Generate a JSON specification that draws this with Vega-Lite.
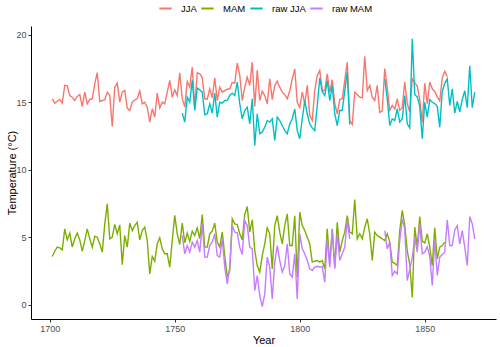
{
  "$schema": "https://vega.github.io/schema/vega-lite/v6.json",
  "width": 465,
  "height": 293,
  "autosize": {"type": "none"},
  "padding": {"left": 31, "top": 26, "right": 4, "bottom": 28},
  "background": "white",
  "config": {
    "view": {"stroke": null},
    "font": "Liberation Sans",
    "axis": {
      "grid": false,
      "domainColor": "black",
      "domainWidth": 1,
      "tickColor": "#333333",
      "tickSize": 3,
      "tickWidth": 1,
      "labelColor": "#4d4d4d",
      "labelFontSize": 9,
      "labelPadding": 2,
      "titleFontSize": 11,
      "titleFontWeight": "normal",
      "titleColor": "black"
    }
  },
  "data": {"values": [
    {"Year":1701,"JJA":15.26,"MAM":3.58},
    {"Year":1702,"JJA":14.94,"MAM":3.97},
    {"Year":1703,"JJA":15.08,"MAM":4.27},
    {"Year":1704,"JJA":15.21,"MAM":4.22},
    {"Year":1705,"JJA":14.94,"MAM":4.07},
    {"Year":1706,"JJA":16.25,"MAM":5.63},
    {"Year":1707,"JJA":16.22,"MAM":4.81},
    {"Year":1708,"JJA":15.5,"MAM":5.31},
    {"Year":1709,"JJA":15.38,"MAM":4.27},
    {"Year":1710,"JJA":15.13,"MAM":4.89},
    {"Year":1711,"JJA":15.43,"MAM":5.31},
    {"Year":1712,"JJA":15.58,"MAM":4.81},
    {"Year":1713,"JJA":14.69,"MAM":3.97},
    {"Year":1714,"JJA":15.75,"MAM":4.76},
    {"Year":1715,"JJA":14.89,"MAM":5.63},
    {"Year":1716,"JJA":15.21,"MAM":4.89},
    {"Year":1717,"JJA":15.26,"MAM":4.27},
    {"Year":1718,"JJA":16.37,"MAM":5.08},
    {"Year":1719,"JJA":17.2,"MAM":5.01},
    {"Year":1720,"JJA":15.06,"MAM":4.52},
    {"Year":1721,"JJA":15.13,"MAM":3.9},
    {"Year":1722,"JJA":15.18,"MAM":5.96},
    {"Year":1723,"JJA":15.75,"MAM":7.48},
    {"Year":1724,"JJA":15.5,"MAM":4.89},
    {"Year":1725,"JJA":13.21,"MAM":5.01},
    {"Year":1726,"JJA":16.12,"MAM":5.96},
    {"Year":1727,"JJA":16.42,"MAM":5.26},
    {"Year":1728,"JJA":15.01,"MAM":5.92},
    {"Year":1729,"JJA":15.75,"MAM":2.98},
    {"Year":1730,"JJA":15.87,"MAM":5.13},
    {"Year":1731,"JJA":14.57,"MAM":4.27},
    {"Year":1732,"JJA":14.39,"MAM":6.05},
    {"Year":1733,"JJA":15.01,"MAM":5.5},
    {"Year":1734,"JJA":15.18,"MAM":5.87},
    {"Year":1735,"JJA":15.26,"MAM":6.12},
    {"Year":1736,"JJA":15.83,"MAM":4.81},
    {"Year":1737,"JJA":14.89,"MAM":5.5},
    {"Year":1738,"JJA":15.01,"MAM":5.75},
    {"Year":1739,"JJA":14.64,"MAM":4.76},
    {"Year":1740,"JJA":13.53,"MAM":2.29},
    {"Year":1741,"JJA":14.52,"MAM":3.58},
    {"Year":1742,"JJA":13.9,"MAM":3.23},
    {"Year":1743,"JJA":15.68,"MAM":4.52},
    {"Year":1744,"JJA":14.59,"MAM":4.96},
    {"Year":1745,"JJA":15.01,"MAM":4.15},
    {"Year":1746,"JJA":14.89,"MAM":3.78},
    {"Year":1747,"JJA":15.75,"MAM":3.78},
    {"Year":1748,"JJA":16.62,"MAM":2.79},
    {"Year":1749,"JJA":15.38,"MAM":4.76},
    {"Year":1750,"JJA":15.92,"MAM":6.62},
    {"Year":1751,"JJA":15.5,"MAM":5.26},
    {"Year":1752,"JJA":17.18,"MAM":4.47},
    {"Year":1753,"JJA":15.25,"MAM":6.05,"raw JJA":14.2,"raw MAM":5.13},
    {"Year":1754,"JJA":14.66,"MAM":4.6,"raw JJA":13.53,"raw MAM":3.78},
    {"Year":1755,"JJA":16.54,"MAM":5.31,"raw JJA":15.38,"raw MAM":4.39},
    {"Year":1756,"JJA":16.12,"MAM":4.7,"raw JJA":15.01,"raw MAM":3.9},
    {"Year":1757,"JJA":17.6,"MAM":5.46,"raw JJA":16.62,"raw MAM":4.64},
    {"Year":1758,"JJA":14.59,"MAM":5.13,"raw JJA":14.39,"raw MAM":4.27},
    {"Year":1759,"JJA":17.18,"MAM":5.7,"raw JJA":16.05,"raw MAM":4.76},
    {"Year":1760,"JJA":17.11,"MAM":4.89,"raw JJA":15.92,"raw MAM":3.9},
    {"Year":1761,"JJA":16.81,"MAM":6.69,"raw JJA":15.75,"raw MAM":6.0},
    {"Year":1762,"JJA":15.26,"MAM":4.27,"raw JJA":14.07,"raw MAM":3.53},
    {"Year":1763,"JJA":15.23,"MAM":4.27,"raw JJA":14.15,"raw MAM":3.53},
    {"Year":1764,"JJA":16.0,"MAM":5.26,"raw JJA":14.89,"raw MAM":4.39},
    {"Year":1765,"JJA":15.33,"MAM":5.46,"raw JJA":14.2,"raw MAM":4.64},
    {"Year":1766,"JJA":16.81,"MAM":6.05,"raw JJA":15.68,"raw MAM":5.26},
    {"Year":1767,"JJA":15.13,"MAM":4.64,"raw JJA":13.9,"raw MAM":3.65},
    {"Year":1768,"JJA":16.12,"MAM":4.27,"raw JJA":15.01,"raw MAM":3.53},
    {"Year":1769,"JJA":15.75,"MAM":5.38,"raw JJA":14.94,"raw MAM":4.89},
    {"Year":1770,"JJA":15.87,"MAM":3.65,"raw JJA":15.13,"raw MAM":2.79},
    {"Year":1771,"JJA":15.97,"MAM":2.05,"raw JJA":15.13,"raw MAM":1.55},
    {"Year":1772,"JJA":16.0,"MAM":2.54,"raw JJA":15.5,"raw MAM":2.79},
    {"Year":1773,"JJA":16.47,"MAM":6.37,"raw JJA":15.68,"raw MAM":5.87},
    {"Year":1774,"JJA":16.42,"MAM":6.0,"raw JJA":15.5,"raw MAM":5.38},
    {"Year":1775,"JJA":17.9,"MAM":5.95,"raw JJA":16.5,"raw MAM":5.33},
    {"Year":1776,"JJA":16.99,"MAM":5.26,"raw JJA":14.9,"raw MAM":4.27},
    {"Year":1777,"JJA":15.13,"MAM":4.81,"raw JJA":13.78,"raw MAM":3.73},
    {"Year":1778,"JJA":16.12,"MAM":6.69,"raw JJA":14.39,"raw MAM":6.24},
    {"Year":1779,"JJA":16.86,"MAM":7.28,"raw JJA":14.64,"raw MAM":5.87},
    {"Year":1780,"JJA":16.25,"MAM":5.38,"raw JJA":13.4,"raw MAM":4.27},
    {"Year":1781,"JJA":17.97,"MAM":6.29,"raw JJA":15.26,"raw MAM":4.15},
    {"Year":1782,"JJA":14.7,"MAM":4.02,"raw JJA":11.8,"raw MAM":1.06},
    {"Year":1783,"JJA":17.36,"MAM":2.91,"raw JJA":14.15,"raw MAM":2.17},
    {"Year":1784,"JJA":15.13,"MAM":2.42,"raw JJA":12.67,"raw MAM":0.69},
    {"Year":1785,"JJA":15.83,"MAM":3.65,"raw JJA":12.79,"raw MAM":-0.13},
    {"Year":1786,"JJA":15.5,"MAM":4.52,"raw JJA":13.16,"raw MAM":0.81},
    {"Year":1787,"JJA":14.89,"MAM":5.7,"raw JJA":13.65,"raw MAM":3.53},
    {"Year":1788,"JJA":16.74,"MAM":5.26,"raw JJA":13.53,"raw MAM":2.79},
    {"Year":1789,"JJA":15.2,"MAM":2.66,"raw JJA":13.78,"raw MAM":0.44},
    {"Year":1790,"JJA":16.25,"MAM":5.87,"raw JJA":12.17,"raw MAM":3.16},
    {"Year":1791,"JJA":16.57,"MAM":6.6,"raw JJA":13.9,"raw MAM":4.39},
    {"Year":1792,"JJA":16.12,"MAM":5.38,"raw JJA":13.65,"raw MAM":3.28},
    {"Year":1793,"JJA":15.75,"MAM":4.52,"raw JJA":13.28,"raw MAM":2.42},
    {"Year":1794,"JJA":15.58,"MAM":5.87,"raw JJA":12.9,"raw MAM":2.91},
    {"Year":1795,"JJA":15.26,"MAM":6.74,"raw JJA":12.67,"raw MAM":4.52},
    {"Year":1796,"JJA":15.83,"MAM":4.39,"raw JJA":13.4,"raw MAM":2.29},
    {"Year":1797,"JJA":16.74,"MAM":4.39,"raw JJA":13.78,"raw MAM":2.05},
    {"Year":1798,"JJA":17.48,"MAM":6.6,"raw JJA":14.5,"raw MAM":3.78},
    {"Year":1799,"JJA":15.0,"MAM":2.05,"raw JJA":12.9,"raw MAM":0.44},
    {"Year":1800,"JJA":14.6,"MAM":6.86,"raw JJA":12.3,"raw MAM":5.26},
    {"Year":1801,"JJA":15.75,"MAM":5.87,"raw JJA":13.78,"raw MAM":4.15},
    {"Year":1802,"JJA":14.89,"MAM":5.5,"raw JJA":15.1,"raw MAM":3.78},
    {"Year":1803,"JJA":16.25,"MAM":5.01,"raw JJA":14.15,"raw MAM":3.28},
    {"Year":1804,"JJA":14.02,"MAM":4.52,"raw JJA":13.4,"raw MAM":2.66},
    {"Year":1805,"JJA":13.65,"MAM":3.16,"raw JJA":13.1,"raw MAM":2.54},
    {"Year":1806,"JJA":15.87,"MAM":3.23,"raw JJA":12.9,"raw MAM":2.79},
    {"Year":1807,"JJA":16.99,"MAM":3.28,"raw JJA":14.76,"raw MAM":2.85},
    {"Year":1808,"JJA":17.36,"MAM":3.16,"raw JJA":16.8,"raw MAM":2.79},
    {"Year":1809,"JJA":15.87,"MAM":3.28,"raw JJA":15.8,"raw MAM":2.85},
    {"Year":1810,"JJA":15.87,"MAM":2.66,"raw JJA":15.5,"raw MAM":1.68},
    {"Year":1811,"JJA":17.11,"MAM":5.63,"raw JJA":16.6,"raw MAM":4.89},
    {"Year":1812,"JJA":15.75,"MAM":3.0,"raw JJA":15.13,"raw MAM":2.79},
    {"Year":1813,"JJA":16.67,"MAM":5.63,"raw JJA":16.25,"raw MAM":5.5},
    {"Year":1814,"JJA":14.89,"MAM":2.79,"raw JJA":14.15,"raw MAM":2.67},
    {"Year":1815,"JJA":14.15,"MAM":6.12,"raw JJA":13.28,"raw MAM":5.26},
    {"Year":1816,"JJA":15.21,"MAM":3.9,"raw JJA":14.39,"raw MAM":3.28},
    {"Year":1817,"JJA":15.26,"MAM":4.76,"raw JJA":14.39,"raw MAM":3.78},
    {"Year":1818,"JJA":16.62,"MAM":5.38,"raw JJA":15.87,"raw MAM":4.27},
    {"Year":1819,"JJA":17.97,"MAM":6.6,"raw JJA":17.23,"raw MAM":6.24},
    {"Year":1820,"JJA":13.65,"MAM":5.38,"raw JJA":13.36,"raw MAM":4.89},
    {"Year":1821,"JJA":13.36,"MAM":5.26},
    {"Year":1822,"JJA":15.75,"MAM":7.8},
    {"Year":1823,"JJA":15.58,"MAM":4.89},
    {"Year":1824,"JJA":15.38,"MAM":5.26},
    {"Year":1825,"JJA":15.33,"MAM":4.89},
    {"Year":1826,"JJA":18.4,"MAM":5.75},
    {"Year":1827,"JJA":15.87,"MAM":6.37},
    {"Year":1828,"JJA":16.25,"MAM":5.26},
    {"Year":1829,"JJA":15.38,"MAM":3.28},
    {"Year":1830,"JJA":15.13,"MAM":5.38},
    {"Year":1831,"JJA":16.25,"MAM":5.13},
    {"Year":1832,"JJA":14.24,"MAM":5.01},
    {"Year":1833,"JJA":14.36,"MAM":4.89},
    {"Year":1834,"JJA":17.5,"MAM":4.76,"raw JJA":16.74,"raw MAM":5.5},
    {"Year":1835,"JJA":16.1,"MAM":5.26,"raw JJA":15.26,"raw MAM":4.15},
    {"Year":1836,"JJA":14.4,"MAM":4.64,"raw JJA":13.28,"raw MAM":4.64},
    {"Year":1837,"JJA":14.77,"MAM":3.16,"raw JJA":13.78,"raw MAM":2.17},
    {"Year":1838,"JJA":14.5,"MAM":3.08,"raw JJA":13.65,"raw MAM":2.49},
    {"Year":1839,"JJA":15.26,"MAM":2.91,"raw JJA":14.52,"raw MAM":2.29},
    {"Year":1840,"JJA":14.4,"MAM":5.5,"raw JJA":13.53,"raw MAM":4.76},
    {"Year":1841,"JJA":14.6,"MAM":6.99,"raw JJA":13.78,"raw MAM":6.37},
    {"Year":1842,"JJA":16.5,"MAM":5.9,"raw JJA":15.5,"raw MAM":5.63},
    {"Year":1843,"JJA":14.9,"MAM":4.0,"raw JJA":13.41,"raw MAM":1.8},
    {"Year":1844,"JJA":14.3,"MAM":3.0,"raw JJA":13.11,"raw MAM":2.6},
    {"Year":1845,"JJA":16.74,"MAM":0.55,"raw JJA":19.7,"raw MAM":3.5},
    {"Year":1846,"JJA":16.45,"MAM":5.75,"raw JJA":15.58,"raw MAM":5.0},
    {"Year":1847,"JJA":16.2,"MAM":4.27,"raw JJA":15.4,"raw MAM":3.9},
    {"Year":1848,"JJA":15.2,"MAM":6.54,"raw JJA":14.7,"raw MAM":6.0},
    {"Year":1849,"JJA":13.5,"MAM":4.72,"raw JJA":12.3,"raw MAM":3.78},
    {"Year":1850,"JJA":16.4,"MAM":4.57,"raw JJA":15.0,"raw MAM":3.9},
    {"Year":1851,"JJA":14.9,"MAM":5.26,"raw JJA":13.9,"raw MAM":4.3},
    {"Year":1852,"JJA":16.5,"MAM":4.27,"raw JJA":15.2,"raw MAM":3.6},
    {"Year":1853,"JJA":16.0,"MAM":2.91,"raw JJA":15.0,"raw MAM":1.43},
    {"Year":1854,"JJA":15.8,"MAM":5.7,"raw JJA":14.9,"raw MAM":4.76},
    {"Year":1855,"JJA":15.4,"MAM":3.4,"raw JJA":14.7,"raw MAM":2.17},
    {"Year":1856,"JJA":15.1,"MAM":4.27,"raw JJA":13.16,"raw MAM":3.53},
    {"Year":1857,"JJA":16.8,"MAM":4.39,"raw JJA":15.8,"raw MAM":3.73},
    {"Year":1858,"JJA":17.3,"MAM":4.64,"raw JJA":16.4,"raw MAM":3.9},
    {"Year":1859,"JJA":16.9,"raw JJA":16.74,"raw MAM":6.3},
    {"Year":1860,"raw JJA":14.77,"raw MAM":4.39},
    {"Year":1861,"raw JJA":16.0,"raw MAM":4.39},
    {"Year":1862,"raw JJA":14.2,"raw MAM":5.55},
    {"Year":1863,"raw JJA":15.07,"raw MAM":5.87},
    {"Year":1864,"raw JJA":14.3,"raw MAM":4.52},
    {"Year":1865,"raw JJA":15.2,"raw MAM":5.5},
    {"Year":1866,"raw JJA":15.85,"raw MAM":4.27},
    {"Year":1867,"raw JJA":14.6,"raw MAM":2.91},
    {"Year":1868,"raw JJA":17.7,"raw MAM":6.54},
    {"Year":1869,"raw JJA":14.6,"raw MAM":6.0},
    {"Year":1870,"raw JJA":15.75,"raw MAM":4.89}
  ]},
  "transform": [{"fold": ["JJA", "MAM", "raw JJA", "raw MAM"], "as": ["series", "temp"]}],
  "mark": {"type": "line", "strokeWidth": 1.4},
  "encoding": {
    "x": {
      "field": "Year", "type": "quantitative",
      "scale": {"domain": [1692.5, 1878.5], "nice": false, "zero": false},
      "axis": {"values": [1700, 1750, 1800, 1850], "format": "d", "title": "Year", "titlePadding": 1}
    },
    "y": {
      "field": "temp", "type": "quantitative",
      "scale": {"domain": [-1.05, 20.65], "nice": false, "zero": false},
      "axis": {"values": [0, 5, 10, 15, 20], "title": "Temperature (°C)", "titlePadding": -2}
    },
    "color": {
      "field": "series", "type": "nominal",
      "scale": {"domain": ["JJA", "MAM", "raw JJA", "raw MAM"], "range": ["#F8766D", "#7CAE00", "#00BFC4", "#C77CFF"]},
      "legend": {
        "title": null,
        "orient": "none",
        "direction": "horizontal",
        "legendX": 127,
        "legendY": -25,
        "padding": 0,
        "symbolType": "stroke",
        "symbolStrokeWidth": 2,
        "symbolSize": 150,
        "labelFontSize": 9.5,
        "labelColor": "black",
        "labelOffset": 8,
        "columnPadding": 0
      }
    }
  }
}
